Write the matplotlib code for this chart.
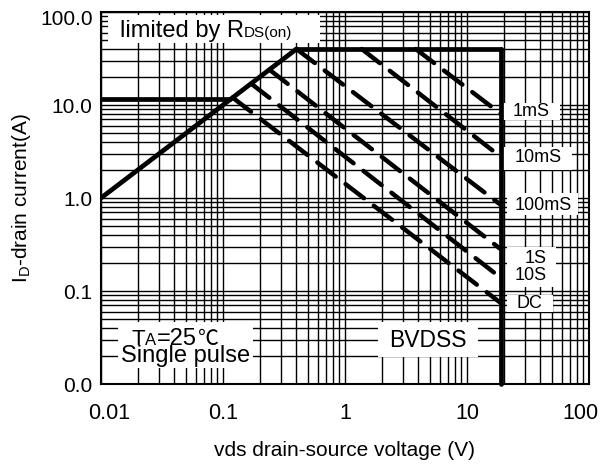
import numpy as np
import matplotlib.pyplot as plt
from matplotlib.patches import Rectangle
from matplotlib.ticker import NullFormatter
from matplotlib.transforms import ScaledTranslation

plt.rcParams['font.family'] = ['Liberation Sans', 'DejaVu Sans']

# safe operating area boundary (V, A)
rds_v = [0.01, 0.4]
rds_i = [1.0, 40.0]
pkg_v = [0.01, 0.115]
pkg_i = [11.5, 11.5]
top_v = [0.4, 19.0]
top_i = [40.0, 40.0]
bv_v = [19.0, 19.0]
bv_i = [40.0, 0.01]

# pulse lines: start and end points
pulse_names = ['1mS', '10mS', '100mS', '1S', '10S', 'DC']
pulse_v0 = [3.8, 1.37, 0.4, 0.24, 0.17, 0.12]
pulse_i0 = [40.0, 40.0, 40.0, 24.0, 17.0, 12.0]
pulse_v1 = [19.0, 19.0, 19.0, 19.0, 19.0, 19.0]
pulse_i1 = [8.0, 2.76, 0.84, 0.28, 0.138, 0.074]

x_ticks = [0.01, 0.1, 1, 10, 100]
x_labels = ['0.01', '0.1', '1', '10', '100']
y_ticks = [0.01, 0.1, 1, 10, 100]
y_labels = ['0.0', '0.1', '1.0', '10.0', '100.0']

W, H = 602, 469
L, R, T, B = 101, 589, 12, 384

fig = plt.figure(figsize=(W / 100, H / 100), dpi=100)
ax = fig.add_axes([L / W, (H - B) / H, (R - L) / W, (B - T) / H])


def pix(x, y):
    # reference pixel -> axes fraction
    return (x - L) / (R - L), (B - y) / (B - T)


def white_box(x0, y0, x1, y1):
    ax0, ay1 = pix(x0, y0)
    ax1, ay0 = pix(x1, y1)
    ax.add_patch(Rectangle((ax0, ay0), ax1 - ax0, ay1 - ay0, transform=ax.transAxes,
                           facecolor='white', edgecolor='none', zorder=1))


def label(x, y, s, size, va='baseline', family=None):
    px, py = pix(x, y)
    kw = {}
    if family:
        kw['family'] = family
    ax.text(px, py, s, transform=ax.transAxes, fontsize=size, ha='left', va=va,
            zorder=4, **kw)


ax.set_xscale('log')
ax.set_yscale('log')
ax.set_xlim(0.01, 100)
ax.set_ylim(0.01, 100)
ax.set_axisbelow(True)
ax.grid(True, which='both', color='black', linewidth=1.0)
ax.set_xticks(x_ticks, labels=x_labels)
ax.set_yticks(y_ticks, labels=y_labels)
ax.xaxis.set_minor_formatter(NullFormatter())
ax.yaxis.set_minor_formatter(NullFormatter())
ax.tick_params(which='both', length=0)
ax.tick_params(axis='x', labelsize=15.5, pad=14)
ax.tick_params(axis='y', labelsize=15, pad=6)
for sp in ax.spines.values():
    sp.set_linewidth(1.5)

# nudge the end tick labels like the original
xl = ax.get_xticklabels()
xl[0].set_transform(xl[0].get_transform() + ScaledTranslation(8 / 100, 0, fig.dpi_scale_trans))
xl[-1].set_transform(xl[-1].get_transform() + ScaledTranslation(-9 / 100, 0, fig.dpi_scale_trans))
yl = ax.get_yticklabels()
yl[-1].set_transform(yl[-1].get_transform() + ScaledTranslation(0, -5 / 100, fig.dpi_scale_trans))

# boundary
lw = 3.4
ax.plot(rds_v, rds_i, color='black', lw=lw, solid_capstyle='round', zorder=3)
ax.plot(pkg_v, pkg_i, color='black', lw=lw, solid_capstyle='round', zorder=3)
ax.plot(top_v, top_i, color='black', lw=lw, solid_capstyle='round', zorder=3)
ax.plot(bv_v, bv_i, color='black', lw=lw, solid_capstyle='round', zorder=3,
        clip_on=False)

for k in range(len(pulse_names)):
    ax.plot([pulse_v0[k], pulse_v1[k]], [pulse_i0[k], pulse_i1[k]], color='black',
            lw=3.2, dashes=(5.2, 2.8), dash_capstyle='round', zorder=3)

# white label areas
white_box(108, 15, 320, 43)
white_box(118, 322, 253, 368)
white_box(378, 322, 478, 357)
white_box(503, 103, 560, 120)
white_box(503, 147, 572, 170)
white_box(507, 193, 578, 215)
white_box(507, 247, 556, 287)
white_box(507, 295, 553, 312)

label(120, 37, 'limited by R', 17)
label(244, 37, 'DS(on)', 11)
label(131, 345, 'T', 16)
label(145, 345, 'A', 12)
label(157, 345, '=25', 17)
label(198, 345, '\u2103', 15, family=['Noto Sans CJK SC', 'DejaVu Sans'])
label(121, 362, 'Single pulse', 17)
label(389, 347, 'BVDSS', 16.5)

name_x = [513, 515, 515, 525, 515, 517]
name_y = [112, 157, 205, 258, 275, 303]
for k in range(len(pulse_names)):
    label(name_x[k], name_y[k], pulse_names[k], 13, va='center')

ax.set_xlabel('vds drain-source voltage (V)', fontsize=15)
ax.set_ylabel('I$_\\mathregular{D}$-drain current(A)', fontsize=15)
ax.xaxis.set_label_coords(0.5, pix(0, 441)[1])
ax.yaxis.set_label_coords(pix(33, 0)[0], 0.5)

fig.savefig('out.png', dpi=100)
